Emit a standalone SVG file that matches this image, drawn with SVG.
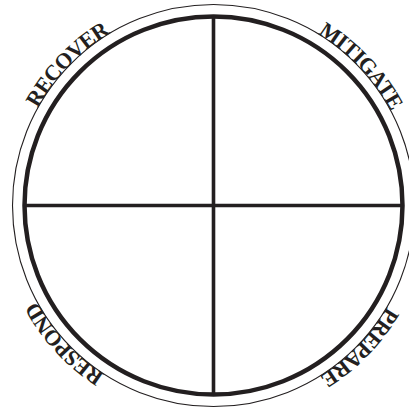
<svg xmlns="http://www.w3.org/2000/svg" width="409" height="413" viewBox="0 0 409 413">
  <style>
    .outer { fill: none; stroke: #231f20; stroke-width: 1.1; }
    .main { fill: none; stroke: #231f20; stroke-width: 4.5; }
    .axis { stroke: #231f20; stroke-width: 3.6; }
    .label { font-family: "Liberation Serif", "Times New Roman", serif; font-weight: bold; font-size: 22px; letter-spacing: -0.7px; fill: #231f20; text-anchor: middle; }
  </style>
  <defs>
    <path id="ring" d="M 12.5,205.5 A 201 201 0 1 1 414.5,205.5 A 201 201 0 1 1 12.5,205.5"/>
  </defs>
  <rect width="409" height="413" fill="#ffffff"/>
  <g id="outer-ring">
    <circle class="outer" cx="213.5" cy="205.5" r="201"/>
  </g>
  <g id="wheel">
    <circle class="main" cx="213.5" cy="205.5" r="189"/>
  </g>
  <g id="connectors">
    <line class="axis" x1="213.5" y1="16.5" x2="213.5" y2="394.5"/>
    <line class="axis" x1="24.5" y1="205.5" x2="402.5" y2="205.5"/>
  </g>
  <g id="recover">
    <text class="label"><textPath href="#ring" startOffset="154">RECOVER</textPath></text>
  </g>
  <g id="mitigate">
    <text class="label"><textPath href="#ring" startOffset="479">MITIGATE</textPath></text>
  </g>
  <g id="prepare">
    <text class="label"><textPath href="#ring" startOffset="786">PREPARE</textPath></text>
  </g>
  <g id="respond">
    <text class="label"><textPath href="#ring" startOffset="1112">RESPOND</textPath></text>
  </g>
</svg>
